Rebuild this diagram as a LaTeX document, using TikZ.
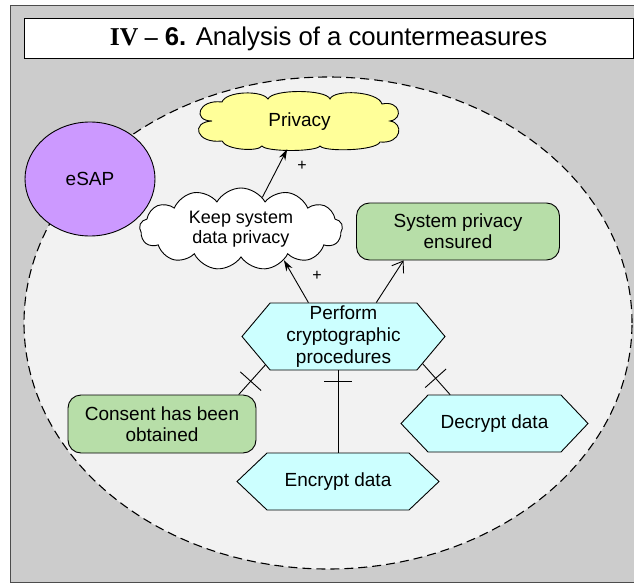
\documentclass[tikz,border=0pt]{standalone}
\usepackage{fontspec}
\setmainfont{Liberation Sans}
\newfontfamily\serifb{Liberation Serif}
\usetikzlibrary{shapes.symbols,shapes.geometric,arrows.meta,decorations.markings}
\definecolor{framegray}{RGB}{204,204,204}
\definecolor{scopefill}{RGB}{242,242,242}
\definecolor{esapfill}{RGB}{204,153,255}
\definecolor{cloudyellow}{RGB}{255,255,153}
\definecolor{goalgreen}{RGB}{183,222,168}
\definecolor{taskcyan}{RGB}{204,255,255}
\begin{document}
\begin{tikzpicture}[x=1pt,y=-1pt,
  every node/.style={font=\fontsize{19}{21}\selectfont, align=center, inner sep=0pt},
  hexa/.style={signal, signal to=west and east, draw=black, line width=0.9pt, fill=taskcyan},
  goalbox/.style={rectangle, rounded corners=13pt, draw=black, line width=0.9pt, fill=goalgreen},
  softgoal/.style={cloud, draw=black, line width=0.9pt},
  outline/.style={draw=black, line width=0.9pt},
  link/.style={draw=black, line width=0.9pt},
  plus/.style={font=\fontsize{16}{16}\selectfont},
  tickmid/.style={postaction={decorate}, decoration={markings,
     mark=at position #1 with {\draw[line width=0.9pt] (0pt,-14pt) -- (0pt,14pt);}}}
]
\useasboundingbox (0,0) rectangle (634,583);
% outer frame
\path[fill=framegray, draw=black!70, line width=0.9pt] (640,5) -- (10,5) -- (10,582) -- (640,582);
% title
\node[draw=black, line width=1pt, fill=white, minimum width=609pt, minimum height=40pt,
      font=\fontsize{25.7}{28}\selectfont] (title) at (328.5,39)
  {{\serifb\bfseries IV –} {\bfseries 6.} Analysis of a countermeasures};
% scope boundary
\node[ellipse, draw=black, dash pattern=on 9pt off 5pt, line width=1.1pt, fill=scopefill,
      minimum width=608pt, minimum height=492pt] (scope) at (328,323) {};
% actor
\node[ellipse, draw=black, line width=0.9pt, fill=esapfill,
      minimum width=130pt, minimum height=114pt] (esap) at (90,179) {eSAP};
% softgoal: Privacy (cloud outline drawn directly)
\path[outline, fill=cloudyellow]
  (212,121) .. controls (192,121) and (198,99) .. (222,102)
  .. controls (226,91) and (262,90) .. (268,99)
  .. controls (272,89) and (326,89) .. (330,99)
  .. controls (334,89) and (378,91) .. (382,104)
  .. controls (400,100) and (404,119) .. (390,121)
  .. controls (404,123) and (402,144) .. (380,142)
  .. controls (376,151) and (324,152) .. (320,146)
  .. controls (316,152) and (266,152) .. (262,146)
  .. controls (258,152) and (226,150) .. (222,141)
  .. controls (196,144) and (190,122) .. (212,121) -- cycle;
\node[minimum width=203pt, minimum height=55pt] (privacy) at (299.5,121.5) {Privacy};
% softgoal: Keep system data privacy
\node[softgoal, fill=white, cloud puffs=13, cloud puff arc=120, aspect=2.5,
      minimum width=203pt, minimum height=82pt, font=\fontsize{18}{20}\selectfont]
      (keep) at (241,229) {Keep system\\data privacy};
% goals
\node[goalbox, minimum width=203pt, minimum height=57pt] (system) at (458,231.5)
  {System privacy\\ensured};
\node[goalbox, minimum width=188pt, minimum height=58pt] (consent) at (162,424)
  {Consent has been\\obtained};
% tasks
\node[hexa, signal pointer angle=100, minimum width=203pt, minimum height=67pt,
      font=\fontsize{19}{22}\selectfont] (perform) at (343.5,336.5)
  {Perform\\cryptographic\\procedures};
\node[hexa, signal pointer angle=93, minimum width=187pt, minimum height=57pt]
  (decrypt) at (494.5,423.5) {Decrypt data};
\node[hexa, signal pointer angle=87, minimum width=202pt, minimum height=57pt]
  (encrypt) at (338,481.5) {Encrypt data};
% links
\draw[link, -{Stealth[length=11pt,width=7pt]}] (keep.56) -- (privacy.246);
\draw[link, -{Stealth[length=11pt,width=7pt]}] (perform.136) -- (keep.-36);
\draw[link, -{Straight Barb[length=10pt,width=14pt]}] (perform.46) -- (system.208);
\draw[link, tickmid=0.55] (perform.200) -- (consent.21);
\draw[link, tickmid=0.47] (perform.-19) -- (decrypt.147);
\draw[link, tickmid=0.13] (encrypt.north |- perform.south) -- (encrypt.north);
% labels
\node[plus] (plusa) at (302,166) {+};
\node[plus] (plusb) at (317,276) {+};
\end{tikzpicture}
\end{document}
